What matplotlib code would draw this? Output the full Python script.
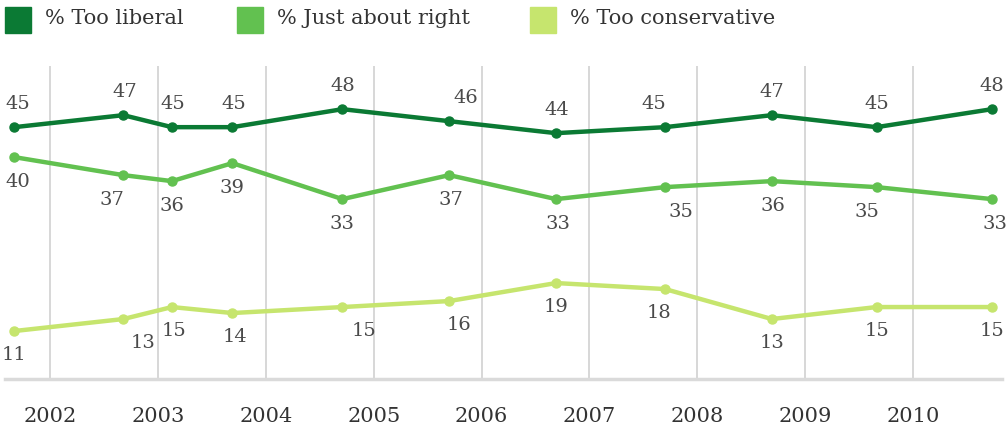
import matplotlib.pyplot as plt
from matplotlib.patches import Rectangle

# survey dates (fractional years) and results
dates = [2001.67, 2002.68, 2003.13, 2003.69, 2004.71, 2005.70,
         2006.69, 2007.70, 2008.69, 2009.66, 2010.73]
too_liberal = [45, 47, 45, 45, 48, 46, 44, 45, 47, 45, 48]
just_right = [40, 37, 36, 39, 33, 37, 33, 35, 36, 35, 33]
too_conservative = [11, 13, 15, 14, 15, 16, 19, 18, 13, 15, 15]
years = [2002, 2003, 2004, 2005, 2006, 2007, 2008, 2009, 2010]
names = ['% Too liberal', '% Just about right', '% Too conservative']
colors = ['#0b7a34', '#62c150', '#c6e56e']

# small horizontal nudges (pixels) for the value labels
dx_lib = [3, 1, 1, 1, 0, 17, 1, -11, 0, 0, 0]
dx_right = [3, -11, 0, 0, 0, 2, 2, 16, 1, -10, 3]
dx_cons = [0, 20, 2, 3, 22, 10, 0, -6, 0, 0, 0]

W, H = 1008, 432
fig = plt.figure(figsize=(W / 100, H / 100), dpi=100)
ax = fig.add_axes([5 / W, (H - 379) / H, (1002 - 5) / W, (379 - 66) / H])
ax.set_xlim(2001.583, 2010.823)
ax.set_ylim(3.0, 55.2)

for y in years:
    ax.axvline(y, color='#d4d4d4', lw=1.3, zorder=1)

series = [(too_liberal, dx_lib, 23), (just_right, dx_right, -25), (too_conservative, dx_cons, -24)]
for (vals, dxs, dy), c in zip(series, colors):
    ax.plot(dates, vals, color=c, lw=3.2, marker='o', ms=6.5, zorder=3,
            solid_joinstyle='round', solid_capstyle='round')
    for x, v, dx in zip(dates, vals, dxs):
        ax.annotate(str(v), (x, v), xytext=(dx, dy), textcoords='offset pixels',
                    ha='center', va='center', fontsize=14, color='#4a4a4a',
                    family='DejaVu Serif', zorder=4, annotation_clip=False)

for s in ['top', 'left', 'right']:
    ax.spines[s].set_visible(False)
ax.spines['bottom'].set_color('#dadada')
ax.spines['bottom'].set_linewidth(2.5)
ax.set_yticks([])
ax.set_xticks(years)
ax.set_xticklabels([str(y) for y in years], family='DejaVu Serif', fontsize=15, color='#333333')
ax.tick_params(axis='x', length=0, pad=20)

# legend along the top
leg_x = [5, 237, 530]
for name, c, x in zip(names, colors, leg_x):
    fig.patches.append(Rectangle((x / W, (H - 33) / H), 26 / W, 26 / H,
                                 transform=fig.transFigure, color=c))
    fig.text((x + 40) / W, (H - 19) / H, name, ha='left', va='center',
             fontsize=15, color='#333333', family='DejaVu Serif')

fig.savefig('out.png', dpi=100)
